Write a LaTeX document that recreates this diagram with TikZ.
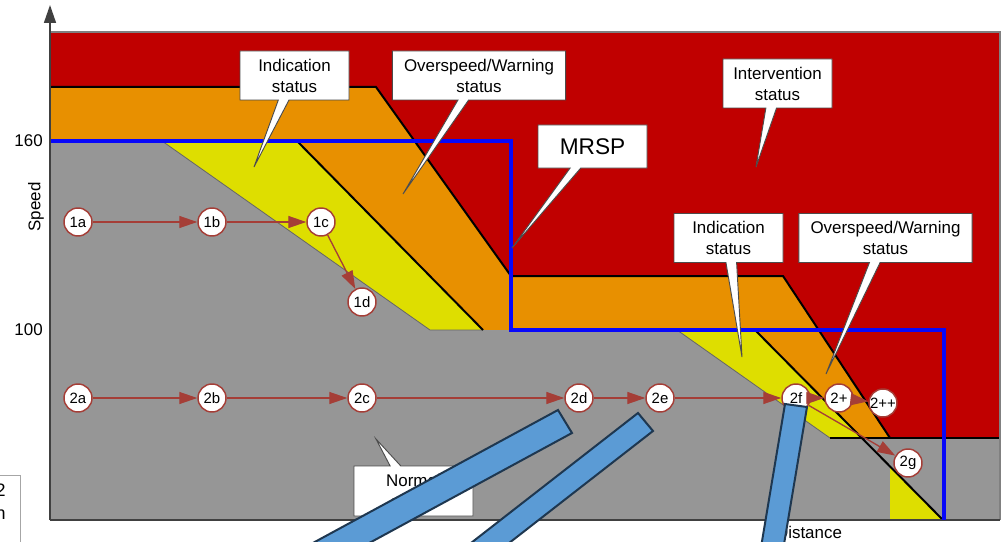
\documentclass[tikz,border=0pt]{standalone}
\usepackage{fontspec}
\setmainfont{Liberation Sans}
\usetikzlibrary{arrows.meta,shapes.callouts}

\definecolor{zonered}{RGB}{192,0,0}
\definecolor{zoneorange}{RGB}{232,144,0}
\definecolor{zoneyellow}{RGB}{222,222,0}
\definecolor{zonegray}{RGB}{150,150,150}
\definecolor{mrspblue}{RGB}{8,8,250}
\definecolor{flowred}{RGB}{165,62,55}
\definecolor{barblue}{RGB}{91,155,213}
\definecolor{baredge}{RGB}{30,55,80}

\begin{document}
\begin{tikzpicture}[x=0.75pt,y=-0.75pt]
  \tikzset{
    txt/.style={font=\fontsize{12.7}{15.7}\selectfont, align=center},
    callbox/.style={txt, rectangle callout, draw=black!70, line width=0.7pt, fill=white,
      inner sep=0pt, minimum height=36.75pt, minimum width=81.75pt, callout pointer width=8pt},
    widebox/.style={minimum width=130pt},
    stopnode/.style={circle, draw=flowred, line width=1.1pt, fill=white, minimum size=21pt,
      inner sep=0pt, font=\fontsize{11.2}{13}\selectfont},
    flow/.style={draw=flowred, line width=1pt, -{Triangle[length=13.5pt,width=9pt]}},
    blackline/.style={draw=black, line width=1.5pt, line join=miter},
    thinline/.style={draw=black!60, line width=0.6pt},
    bar/.style={fill=barblue, draw=baredge, line width=1.5pt, line join=miter}}
  \useasboundingbox (0,0) rectangle (1004,542);
  \clip (0,0) rectangle (1004,542);
  % speed zones
  \fill[zonered] (50,32) rectangle (1000,520);
  \fill[zoneorange] (50,87) -- (376,87) -- (511,276) -- (783,276) -- (890,438) -- (890,520) -- (50,520) -- cycle;
  \fill[zoneyellow] (50,141) -- (297,141) -- (483,330) -- (755,330) -- (943,520) -- (50,520) -- cycle;
  \fill[zonegray] (50,141) -- (162,141) -- (430,330) -- (677,330) -- (830,438) -- (1000,438) -- (1000,520) -- (50,520) -- cycle;
  \fill[zoneyellow] (890,466) -- (943,520) -- (890,520) -- cycle;
  \draw[thinline] (162,141) -- (430,330) -- (483,330);
  \draw[thinline] (677,330) -- (830,438);
  \draw[blackline] (50,87) -- (376,87) -- (511,276) -- (783,276) -- (890,438);
  \draw[blackline] (830,438) -- (1000,438);
  \draw[blackline] (297,141) -- (483,330);
  \draw[blackline] (755,330) -- (943,520);
  \draw[black!50, line width=0.8pt] (50,32) -- (1000,32) -- (1000,520);
  \draw[black!75, line width=1pt] (50,520) -- (1000,520);
  % MRSP
  \draw[mrspblue, line width=3pt, line join=miter] (50,141) -- (511,141) -- (511,330) -- (944,330) -- (944,520);
  \draw[black!75, line width=1.2pt, -{Triangle[length=13.5pt,width=9pt]}] (50,520) -- (50,5);
  \node[txt, anchor=east, inner sep=0pt] (v160) at (43,141) {160};
  \node[txt, anchor=east, inner sep=0pt] (v100) at (43,330) {100};
  \node[txt, rotate=90] (ylab) at (36,207) {Speed};
  \node[txt] (xlab) at (809,532) {Distance};
  % callouts
  \coordinate (tipind) at (254,167);
  \coordinate (tipow) at (403,194);
  \coordinate (tipmrsp) at (512,248);
  \coordinate (tipint) at (756,167);
  \coordinate (tipindb) at (742,357);
  \coordinate (tipowb) at (826,374);
  \coordinate (tipnorm) at (376,439);
  \node[callbox, callout absolute pointer=(tipind)] (ind) at (294.5,75.5) {Indication\\status};
  \node[callbox, widebox, callout absolute pointer=(tipow)] (ow) at (479,75.5) {Overspeed/Warning\\status};
  \node[callbox, minimum height=32.25pt, font=\fontsize{17}{20}\selectfont, callout absolute pointer=(tipmrsp)] (mrsp) at (592.5,146.5) {MRSP};
  \node[callbox, callout absolute pointer=(tipint)] (int) at (777.5,83.5) {Intervention\\status};
  \node[callbox, callout absolute pointer=(tipindb)] (indb) at (728.5,238) {Indication\\status};
  \node[callbox, widebox, callout absolute pointer=(tipowb)] (owb) at (885.5,238) {Overspeed/Warning\\status};
  \node[callbox, minimum width=89.25pt, minimum height=37.5pt, callout absolute pointer=(tipnorm)] (norm) at (413.5,491) {Normal\\status};
  % train positions
  \foreach \n/\t/\x/\y in {1a/1a/78/222, 1b/1b/212/222, 1c/1c/321/222, 1d/1d/362/302,
      2a/2a/78/398, 2b/2b/212/398, 2c/2c/362/398, 2d/2d/579/398, 2e/2e/660/398,
      2f/2f/796/398, 2p/2+/839/398, 2pp/2++/883/403, 2g/2g/908/463}
    \node[stopnode] (m\n) at (\x,\y) {\t};
  \foreach \a/\b in {1a/1b, 1b/1c, 1c/1d, 2a/2b, 2b/2c, 2c/2d, 2d/2e, 2e/2f, 2f/2p, 2p/2pp, 2f/2g}
    \draw[flow] (m\a) -- (m\b);
  \draw[black!35, line width=0.7pt] (-20,475) rectangle (20,600);
  \node[anchor=north east, align=right, inner sep=0pt, font=\fontsize{13.5}{17.2}\selectfont] (legend) at (6,484) {2\\n};
  % bars
  \fill[bar] (558,410) -- (572,433) -- (220,624) -- (206,601) -- cycle;
  \fill[bar] (638,413) -- (653,431) -- (337,677) -- (322,659) -- cycle;
  \fill[bar] (785,404) -- (807,407) -- (774,604) -- (752,601) -- cycle;
\end{tikzpicture}
\end{document}
